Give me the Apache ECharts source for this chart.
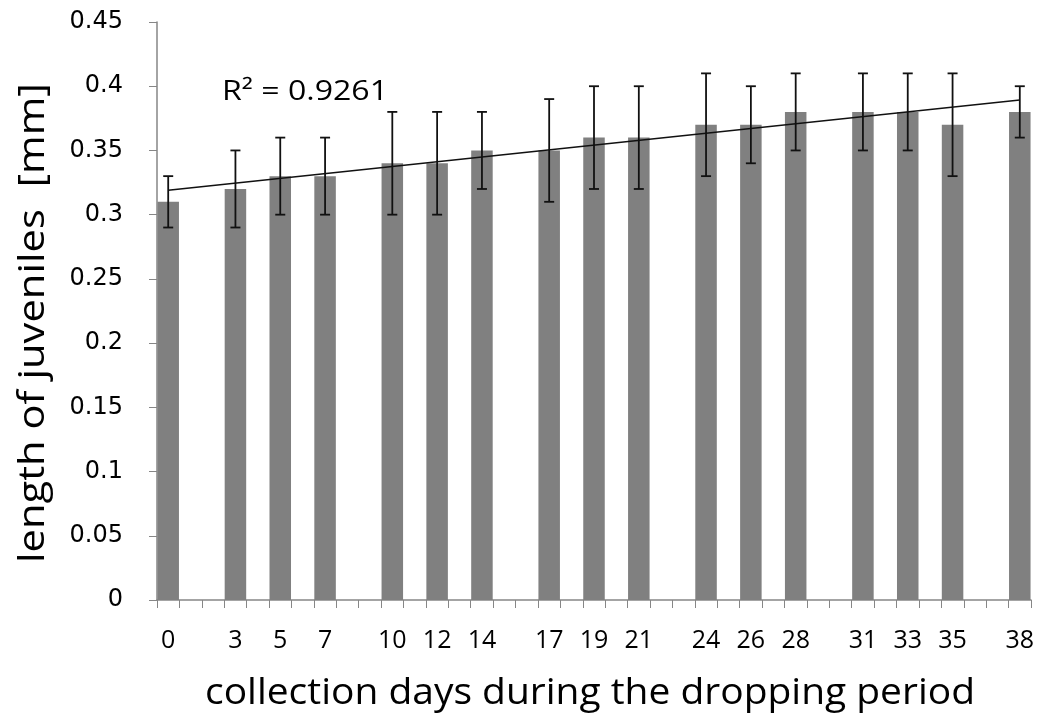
<!DOCTYPE html>
<html>
<head>
<meta charset="utf-8">
<script src="https://cdn.jsdelivr.net/npm/echarts@6/dist/echarts.min.js"></script>
<style>
  html, body { margin: 0; padding: 0; background: #fff; }
  #chart { width: 1040px; height: 718px; }
</style>
</head>
<body>
<div id="chart"></div>
<script>
// Collection days that have a sample, mean juvenile length (mm) and error (± mm)
const days    = [0, 3, 5, 7, 10, 12, 14, 17, 19, 21, 24, 26, 28, 31, 33, 35, 38];
const lengths = [0.31, 0.32, 0.33, 0.33, 0.34, 0.34, 0.35, 0.35, 0.36, 0.36, 0.37, 0.37, 0.38, 0.38, 0.38, 0.37, 0.38];
const errors  = [0.02, 0.03, 0.03, 0.03, 0.04, 0.04, 0.03, 0.04, 0.04, 0.04, 0.04, 0.03, 0.03, 0.03, 0.03, 0.04, 0.02];
const lastDay = 38;
const r2Label = 'R\u00B2 = 0.9261';
const xTitle  = 'collection days during the dropping period';
const yTitle  = 'length of juveniles  [mm]';

// One category per day of the period
const dayCats = [];
for (let d = 0; d <= lastDay; d++) dayCats.push(String(d));
const labelled = new Set(days.map(String));

const barData = dayCats.map(() => '-');
days.forEach((d, i) => { barData[d] = lengths[i]; });

const errData = days.map((d, i) => [d, lengths[i] - errors[i], lengths[i] + errors[i]]);

// Least-squares linear trend over day number
const n = days.length;
const mx = days.reduce((a, b) => a + b, 0) / n;
const my = lengths.reduce((a, b) => a + b, 0) / n;
let sxy = 0, sxx = 0;
days.forEach((d, i) => { sxy += (d - mx) * (lengths[i] - my); sxx += (d - mx) * (d - mx); });
const slope = sxy / sxx;
const intercept = my - slope * mx;
const trendData = dayCats.map(() => null);
trendData[days[0]] = intercept + slope * days[0];
trendData[days[n - 1]] = intercept + slope * days[n - 1];

// Horizontal stretch so a title spans a given width
const measureCtx = document.createElement('canvas').getContext('2d');
function stretchTo(text, font, width) {
  measureCtx.font = font;
  return width / measureCtx.measureText(text).width;
}

const textFont = 'Open Sans';
const xTitleFont = '36px "Open Sans"';
const yTitleFont = '37px "Open Sans"';
const r2Font = '27px "Open Sans"';

const axisGray = '#868686';
const chart = echarts.init(document.getElementById('chart'));
chart.setOption({
  animation: false,
  backgroundColor: '#fff',
  grid: { left: 157, right: 9, top: 22, bottom: 118 },
  xAxis: {
    type: 'category',
    data: dayCats,
    boundaryGap: true,
    axisLine: { lineStyle: { color: axisGray, width: 1.5 } },
    axisTick: { show: true, interval: 0, length: 8, lineStyle: { color: axisGray } },
    axisLabel: {
      interval: (idx, val) => labelled.has(val),
      margin: 28,
      color: '#000',
      fontFamily: textFont,
      fontSize: 25
    },
    splitLine: { show: false }
  },
  yAxis: {
    type: 'value',
    min: 0,
    max: 0.45,
    interval: 0.05,
    axisLine: { show: true, lineStyle: { color: axisGray, width: 1.5 } },
    axisTick: { show: true, length: 8, lineStyle: { color: axisGray } },
    axisLabel: {
      margin: 34,
      color: '#000',
      fontFamily: 'DejaVu Sans',
      fontSize: 24,
      formatter: v => String(+v.toFixed(2))
    },
    splitLine: { show: false }
  },
  series: [
    {
      type: 'bar',
      data: barData,
      barCategoryGap: '4%',
      itemStyle: { color: '#808080' }
    },
    {
      type: 'custom',
      data: errData,
      z: 5,
      renderItem: (params, api) => {
        const top = api.coord([api.value(0), api.value(2)]);
        const bot = api.coord([api.value(0), api.value(1)]);
        const cap = 5;
        const style = { stroke: '#111', lineWidth: 1.8 };
        return {
          type: 'group',
          children: [
            { type: 'line', shape: { x1: top[0], y1: top[1], x2: bot[0], y2: bot[1] }, style },
            { type: 'line', shape: { x1: top[0] - cap, y1: top[1], x2: top[0] + cap, y2: top[1] }, style },
            { type: 'line', shape: { x1: bot[0] - cap, y1: bot[1], x2: bot[0] + cap, y2: bot[1] }, style }
          ]
        };
      }
    },
    {
      type: 'line',
      data: trendData,
      connectNulls: true,
      symbol: 'none',
      z: 6,
      lineStyle: { color: '#111', width: 1.5 }
    }
  ],
  graphic: [
    {
      type: 'text',
      x: 222,
      y: 92,
      scaleX: stretchTo(r2Label, r2Font, 166),
      style: { text: r2Label, font: r2Font, fill: '#000', align: 'left', verticalAlign: 'middle' }
    },
    {
      type: 'text',
      x: 590,
      y: 694,
      scaleX: stretchTo(xTitle, xTitleFont, 770),
      style: { text: xTitle, font: xTitleFont, fill: '#000', align: 'center', verticalAlign: 'middle' }
    },
    {
      type: 'text',
      x: 33,
      y: 323,
      rotation: Math.PI / 2,
      scaleX: stretchTo(yTitle, yTitleFont, 480),
      style: { text: yTitle, font: yTitleFont, fill: '#000', align: 'center', verticalAlign: 'middle' }
    }
  ]
});
</script>
</body>
</html>
